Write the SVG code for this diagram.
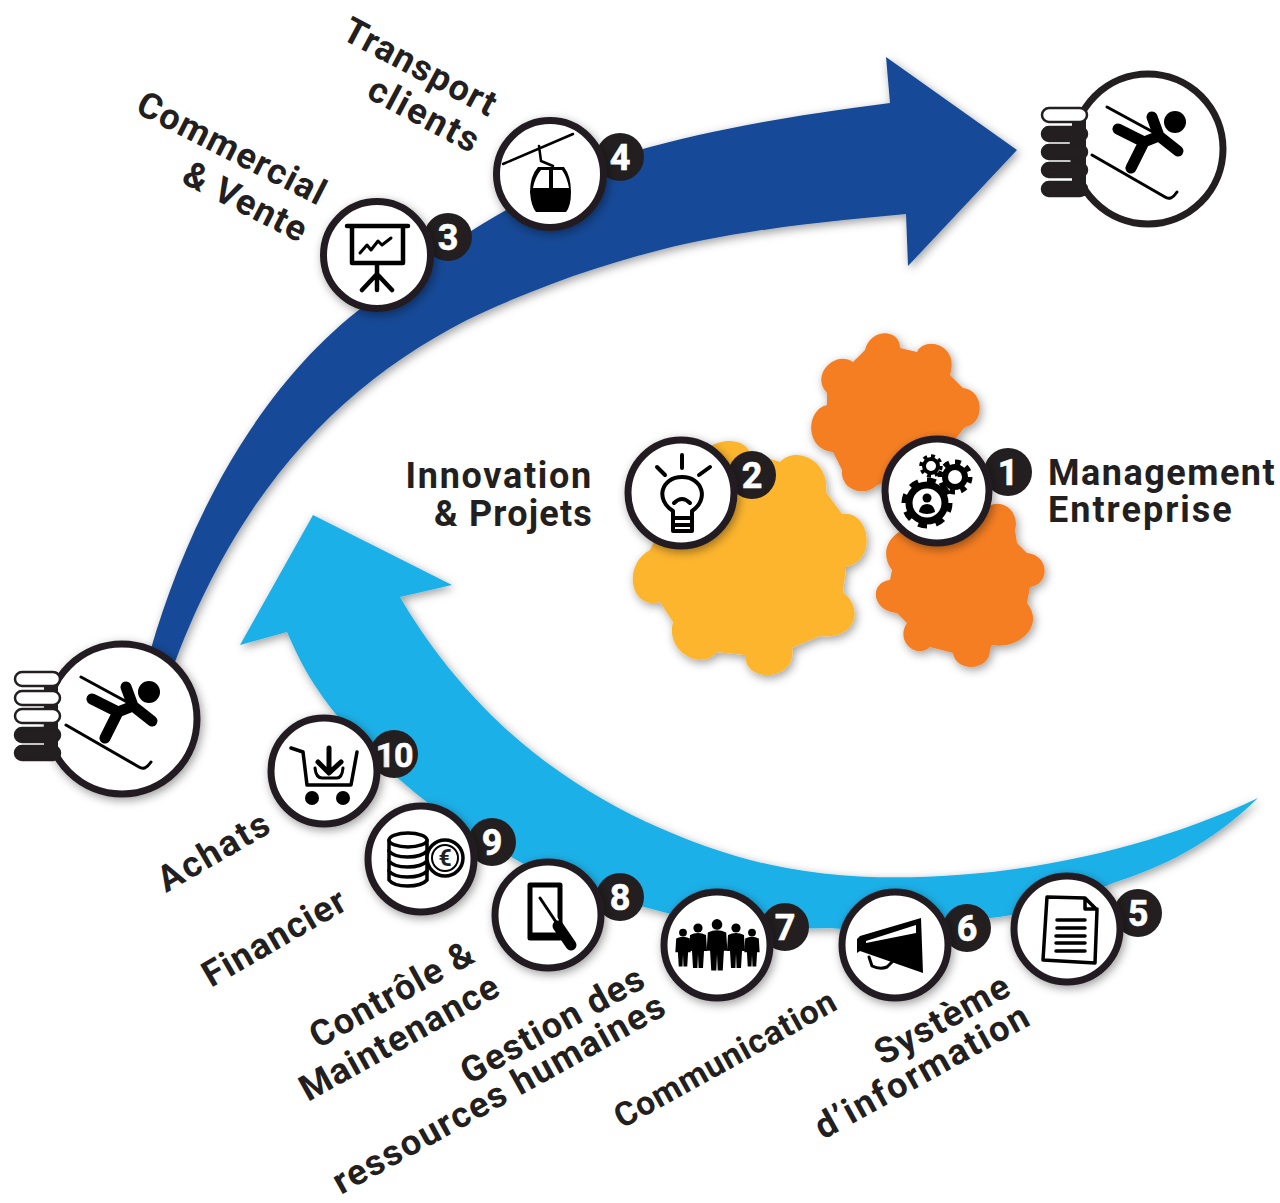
<svg xmlns="http://www.w3.org/2000/svg" xmlns:xlink="http://www.w3.org/1999/xlink" width="1280" height="1203" viewBox="0 0 1280 1203">
<style>
text{font-family:Roboto,"Liberation Sans",sans-serif;font-weight:700;fill:#231f20}
.lbl{font-size:36px;letter-spacing:1.2px}
.ring{fill:#fff;stroke:#231f20;stroke-width:7}
.badge{fill:#231f20}
.num{fill:#fff;font-size:36px;text-anchor:middle;stroke:#fff;stroke-width:.6}
.ln{fill:none;stroke:#000;stroke-linecap:round;stroke-linejoin:round}
.bk{fill:#000}
.wpill{fill:#fff;stroke:#231f20;stroke-width:2.5}
.bpill{fill:#231f20;stroke:#231f20;stroke-width:2.5}
.shadow{filter:url(#sh)}
</style>
<defs>
<filter id="sh" x="-15%" y="-15%" width="130%" height="130%"><feDropShadow dx="2" dy="3" stdDeviation="5" flood-color="#000" flood-opacity=".38"/></filter>
<g id="skier">
<path class="ln" stroke-width="3" d="M-41-42 5-17M-56 6 17 48Q23 52 29 43"/>
<circle class="bk" cx="27" cy="-27" r="11"/>
<path class="ln" stroke-width="11" d="M4-32 11-13 30 2M-30-20-4-7-17 19M-4-7 11-13"/>
</g>
<g id="person"><circle class="bk" cy="-4" r="4.6"/><path class="bk" d="M-8 3Q0-1 8 3L9 19 6 19 5 36 .6 36 0 22-.6 36-5 36-6 19-9 19Z"/></g>
</defs>
<g id="connectors">
<path id="arrow-dark" class="shadow" fill="#174a97" d="M150 652C185 530 250 400 350 317C440 245 560 170 650 147C730 125 820 112 890 103L886 57 1017 150 908 266 906 214C820 222 740 230 660 250C590 268 530 290 467 320C340 385 240 490 175 662Z"/>
<path id="arrow-light" class="shadow" fill="#1cb0e8" d="M400 597C425 640 465 695 522 743C590 800 670 838 750 860C820 878 890 880 957 875C1060 868 1170 840 1258 798C1210 845 1160 868 1113 883C1060 905 1020 915 990 918C930 930 870 932 830 928C770 930 710 925 663 912C610 898 565 885 522 863C480 840 440 815 400 780C365 750 335 715 320 693C305 672 295 650 287 632L240 645 313 515 452 585Z"/>
</g>
<g id="gears">
<path id="gear-yellow" class="shadow" fill="#fdb52e" d="M690 470C700 440 740 432 750 452L780 462C795 445 830 460 826 492L842 514C870 510 878 560 846 567L843 592C865 610 855 640 820 636L792 648C798 680 745 685 745 655L717 652C700 672 665 650 673 622L660 602C630 610 622 565 650 550Z"/>
<path id="gear-orange-top" class="shadow" fill="#f57e20" d="M865 350C870 328 900 328 900 348L917 352C925 335 960 345 950 375L963 388C985 390 985 425 965 427L930 470 877 485C865 498 840 490 842 470L833 452C805 450 805 410 827 405L827 393C810 375 835 350 853 362Z"/>
<path id="gear-orange-bottom" class="shadow" fill="#f57e20" d="M920 525 985 508C1005 495 1020 515 1015 530L1017 543 1027 553C1050 555 1050 585 1030 587L1027 603C1045 625 1020 650 992 645L990 650C990 672 955 672 953 653L930 647C915 660 895 640 907 623L897 613C870 610 870 582 890 580L892 570C880 555 885 530 920 525Z"/>
</g>
<g id="start-skier">
<circle class="ring shadow" cx="122" cy="719" r="75"/>
<rect x="44" y="672" width="14" height="88" fill="#231f20"/>
<rect class="wpill" x="15" y="672" width="45" height="14" rx="7"/>
<rect class="wpill" x="15" y="691" width="45" height="14" rx="7"/>
<rect class="wpill" x="15" y="709" width="45" height="14" rx="7"/>
<rect class="bpill" x="15" y="728" width="45" height="14" rx="7"/>
<rect class="bpill" x="15" y="746" width="45" height="14" rx="7"/>
<use href="#skier" x="122" y="719"/>
</g>
<g id="end-skier">
<circle class="ring" cx="1148" cy="149" r="75"/>
<rect x="1072" y="108" width="14" height="88" fill="#231f20"/>
<rect class="wpill" x="1042" y="108" width="45" height="14" rx="7"/>
<rect class="bpill" x="1042" y="127" width="45" height="14" rx="7"/>
<rect class="bpill" x="1042" y="145" width="45" height="14" rx="7"/>
<rect class="bpill" x="1042" y="163" width="45" height="14" rx="7"/>
<rect class="bpill" x="1042" y="182" width="45" height="14" rx="7"/>
<use href="#skier" x="1148" y="149"/>
</g>
<g id="node-1">
<circle class="badge" cx="1008" cy="472" r="24"/><text class="num" x="1008" y="485">1</text>
<circle class="ring shadow" cx="937" cy="491" r="52"/>
<circle cx="931" cy="466" r="7" class="ln" stroke-width="4"/>
<circle cx="931" cy="466" r="10" class="ln" style="stroke-linecap:butt" stroke-width="3.500" pathLength="64" stroke-dasharray="4 4"/>
<circle cx="955" cy="477" r="10" class="ln" stroke-width="6"/>
<circle cx="955" cy="477" r="15" class="ln" style="stroke-linecap:butt" stroke-width="5" pathLength="64" stroke-dasharray="4 4"/>
<circle cx="927" cy="503" r="18" class="ln" stroke-width="7"/>
<circle cx="927" cy="503" r="23" class="ln" style="stroke-linecap:butt" stroke-width="5" pathLength="80" stroke-dasharray="5 5"/>
<circle cx="927" cy="498" r="4.500" class="bk"/><path class="bk" d="M919 512Q920 504 927 504Q934 504 935 512Q927 516 919 512Z"/>
</g>
<g id="node-2">
<circle class="badge" cx="752" cy="475" r="24"/><text class="num" x="752" y="488">2</text>
<circle class="ring shadow" cx="681" cy="493" r="53"/>
<path class="ln" stroke-width="4" d="M682 455V468M657 467 665 475M710 467 699 475M674 503Q682 495 690 503"/>
<path class="ln" stroke-width="4" d="M673 518V511C655 500 661 477 682 477C703 477 709 500 692 511V518ZM673 518V531H692V518M673 525H692"/>
</g>
<g id="node-3">
<circle class="badge" cx="448" cy="237" r="24"/><text class="num" x="448" y="250">3</text>
<circle class="ring shadow" cx="377" cy="255" r="53.500"/>
<path class="ln" stroke-width="4.500" d="M347 226H408M352 228V263H403V228M377 263V290M362 290 377 274 392 290"/>
<path class="ln" stroke-width="3" d="M360 253 367 245 371 250 378 241 382 245 391 238"/>
</g>
<g id="node-4">
<circle class="badge" cx="620" cy="157" r="24"/><text class="num" x="620" y="170">4</text>
<circle class="ring shadow" cx="550" cy="174" r="53.500"/>
<path class="ln" stroke-width="2.500" d="M503 164 573 134M539 146 541 161 553 166"/>
<path class="bk" d="M538 167H564Q571 176 571 192Q571 206 566 212H536Q531 206 530 192Q530 176 538 167ZM541 170Q535 177 533 188H549V170ZM553 170V188H569Q567 177 562 170Z"/>
</g>
<g id="node-5">
<circle class="badge" cx="1138" cy="913" r="24"/><text class="num" x="1138" y="926">5</text>
<circle class="ring shadow" cx="1067" cy="929" r="53"/>
<path class="ln" stroke-width="3.500" d="M1047 897 1085 898 1097 910 1095 963 1043 960ZM1085 898V909H1097"/>
<path class="ln" stroke-width="3.500" d="M1057 920H1085M1057 928H1085M1056 936H1085M1056 943H1085M1056 951H1085"/>
</g>
<g id="node-6">
<circle class="badge" cx="967" cy="928" r="24"/><text class="num" x="967" y="941">6</text>
<circle class="ring shadow" cx="895" cy="945" r="53"/>
<path class="bk" d="M857 939 860 936 921 918 923 973 860 951 857 953ZM866 941 866 943 916 933 916 925Z" fill-rule="evenodd"/>
<path class="ln" stroke-width="3" d="M869 957 872 966Q880 970 887 967L892 962"/>
</g>
<g id="node-7">
<circle class="badge" cx="785" cy="927" r="24"/><text class="num" x="785" y="940">7</text>
<circle class="ring shadow" cx="717" cy="945" r="53"/>
<use href="#person" transform="translate(683 936) scale(.85)"/>
<use href="#person" transform="translate(698 932)"/>
<use href="#person" transform="translate(717 929) scale(1.150)"/>
<use href="#person" transform="translate(736 932)"/>
<use href="#person" transform="translate(752 936) scale(.85)"/>
</g>
<g id="node-8">
<circle class="badge" cx="620" cy="897" r="24"/><text class="num" x="620" y="910">8</text>
<circle class="ring shadow" cx="548" cy="915" r="53"/>
<path fill="none" stroke="#000" stroke-width="5" stroke-linejoin="round" d="M530 885H560V938H530Z"/>
<path fill="none" stroke="#000" stroke-width="7" d="M530 936H560"/>
<path stroke="#fff" stroke-width="6" stroke-linecap="round" d="M541 898 556 921M556 925 572 946"/>
<path stroke="#000" stroke-width="3" stroke-linecap="round" d="M540 898 556 922"/>
<path stroke="#000" stroke-width="11" stroke-linecap="round" d="M558 926 571 945"/>
</g>
<g id="node-9">
<circle class="badge" cx="492" cy="842" r="24"/><text class="num" x="492" y="855">9</text>
<circle class="ring shadow" cx="421" cy="859" r="53"/>
<g fill="#fff" stroke="#000" stroke-width="3.500">
<path d="M389 871V880C395 888 420 888 427 880V871Z"/><path d="M389 861V871C395 879 420 879 427 871V861Z"/><path d="M389 851V861C395 869 420 869 427 861V851Z"/><path d="M389 841V851C395 859 420 859 427 851V841Z"/>
<ellipse cx="408" cy="840" rx="19" ry="7"/>
<circle cx="445" cy="858" r="18"/><circle cx="445" cy="858" r="13" stroke-width="2"/>
</g>
<text x="445" y="866" style="font-size:23px" text-anchor="middle">€</text>
</g>
<g id="node-10">
<circle class="badge" cx="394" cy="754" r="24"/><text class="num" x="394" y="767" style="font-size:34px;letter-spacing:-1px">10</text>
<circle class="ring shadow" cx="324" cy="771" r="53"/>
<path class="ln" stroke-width="3.500" d="M291 748 303 752 307 785H351L357 752"/>
<circle class="bk" cx="312" cy="798" r="7"/><circle class="bk" cx="343" cy="798" r="7"/>
<path class="ln" stroke-width="5" d="M329 748V770M318 762 329 773 341 762"/>
<path class="ln" stroke-width="3" d="M315 768Q316 778 322 778H337Q342 778 343 768"/>
</g>
<g id="labels">
<text class="lbl" transform="translate(340 38) rotate(28)">Transport</text>
<text class="lbl" transform="translate(365 97) rotate(28)" style="letter-spacing:2px">clients</text>
<text class="lbl" transform="translate(134 112) rotate(27)">Commercial</text>
<text class="lbl" transform="translate(180 182) rotate(27)">&amp; Vente</text>
<text class="lbl" x="593" y="488" text-anchor="end" style="letter-spacing:1.7px">Innovation</text>
<text class="lbl" x="593" y="526" text-anchor="end">&amp; Projets</text>
<text class="lbl" x="1048" y="485" style="letter-spacing:1.5px">Management</text>
<text class="lbl" x="1048" y="522" style="letter-spacing:2px">Entreprise</text>
<text class="lbl" transform="translate(166 893) rotate(-30)" style="letter-spacing:2px">Achats</text>
<text class="lbl" transform="translate(211 988) rotate(-30)">Financier</text>
<text class="lbl" transform="translate(318 1049) rotate(-29)">Contrôle &amp;</text>
<text class="lbl" transform="translate(308 1102) rotate(-29)">Maintenance</text>
<text class="lbl" transform="translate(469 1085) rotate(-29)">Gestion des</text>
<text class="lbl" transform="translate(341 1195) rotate(-29)" style="letter-spacing:1.5px">ressources humaines</text>
<text class="lbl" transform="translate(622 1129) rotate(-29)" style="font-size:33.500px;letter-spacing:.8px">Communication</text>
<text class="lbl" transform="translate(883 1066) rotate(-29)">Système</text>
<text class="lbl" transform="translate(823 1140) rotate(-29)" style="letter-spacing:1.8px">d’information</text>
</g>
</svg>
